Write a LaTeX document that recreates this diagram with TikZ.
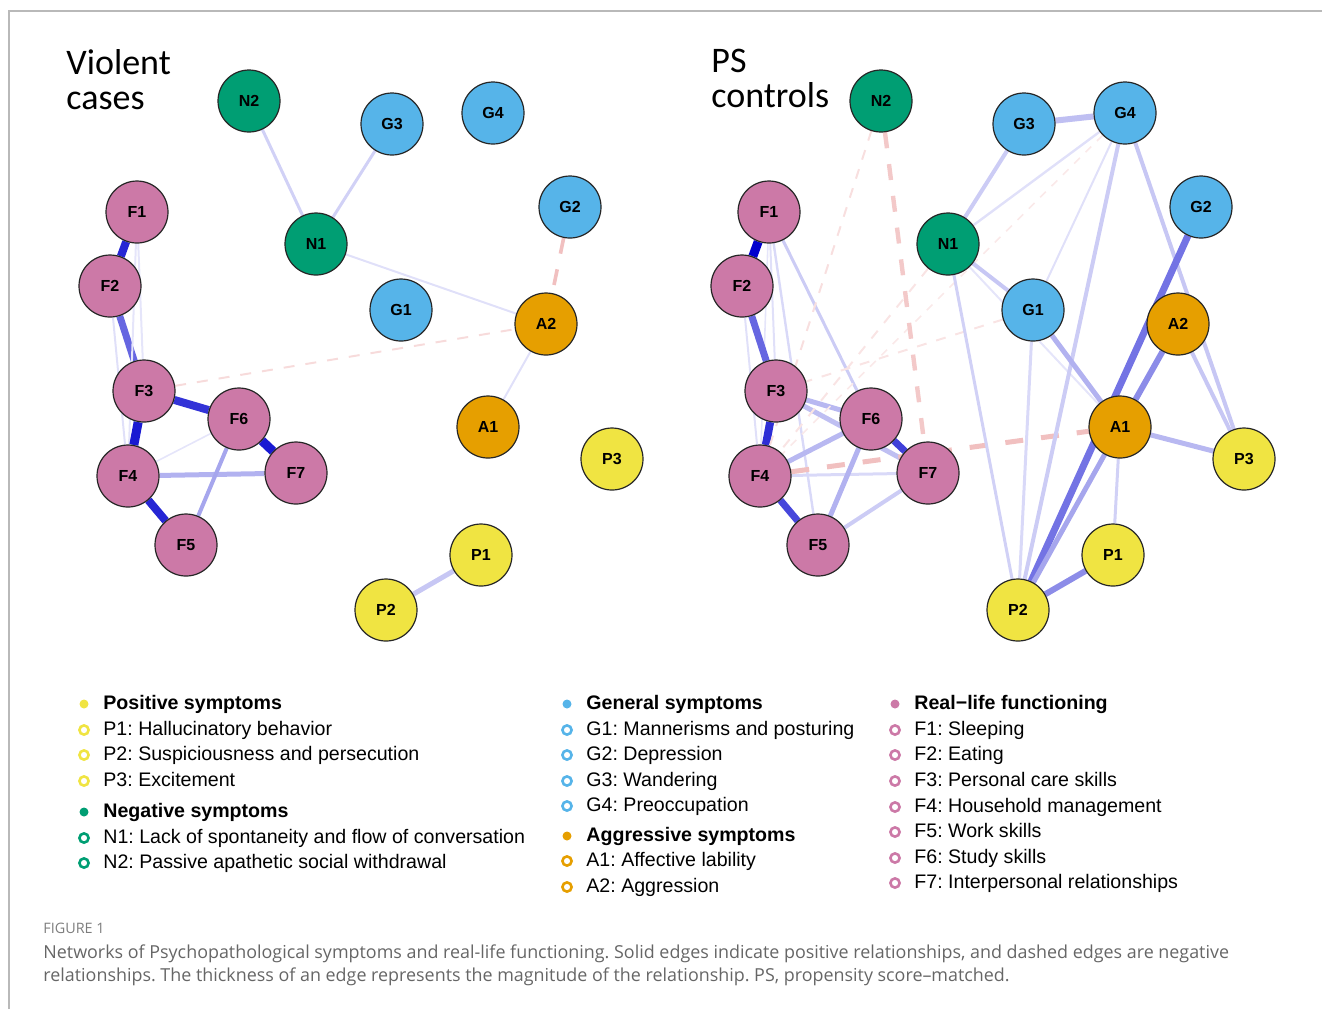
\documentclass[tikz,border=0pt]{standalone}
\usepackage{fontspec}
\setmainfont{Liberation Sans}
\newfontfamily\titlefont{Carlito}
\newfontfamily\capfont{Open Sans}
\usetikzlibrary{positioning}
\pgfdeclarelayer{edges}
\pgfsetlayers{edges,main}
\frenchspacing

\definecolor{posyel}{HTML}{F0E442}
\definecolor{neggrn}{HTML}{009E73}
\definecolor{genblu}{HTML}{56B4E9}
\definecolor{aggorg}{HTML}{E69F00}
\definecolor{funpnk}{HTML}{CC79A7}
\definecolor{edgepos}{RGB}{0,0,205}
\definecolor{edgeneg}{RGB}{215,75,75}
\definecolor{capgray}{HTML}{666666}

\begin{document}
\begin{tikzpicture}[
  x=0.5pt, y=-0.5pt,
  sym/.style={circle, draw=black!85, line width=0.6pt, minimum size=31pt, inner sep=0pt, font=\bfseries\fontsize{8}{8}\selectfont},
  pnode/.style={sym, fill=posyel},
  nnode/.style={sym, fill=neggrn},
  gnode/.style={sym, fill=genblu},
  anode/.style={sym, fill=aggorg},
  fnode/.style={sym, fill=funpnk},
  pos/.style 2 args={draw=edgepos!#1, line width=#2pt},
  neg/.style n args={3}{draw=edgeneg!#1, line width=#2pt, dash pattern=on #3pt off #3pt},
  title/.style={anchor=north west, inner sep=0pt, align=left, font=\titlefont\fontsize{18}{17.5}\selectfont},
  dot/.style={circle, inner sep=0pt, minimum size=4.5pt, fill=#1},
  ring/.style={circle, inner sep=0pt, minimum size=4.6pt, draw=#1, line width=1.3pt},
  head/.style={anchor=mid west, inner sep=0pt, font=\bfseries\fontsize{9.8}{11}\selectfont},
  item/.style={anchor=mid west, inner sep=0pt, font=\fontsize{9.8}{11}\selectfont}
]
\useasboundingbox (0,0) rectangle (1322,1009);
\draw[gray!55, line width=0.8pt] (9,1009) -- (9,11) -- (1322,11);

% titles
\node[title] (vtitle) at (66,49) {Violent\\cases};
\node[title] (ctitle) at (711,49) {PS\\controls};

% violent cases
\node[nnode] (vN2) at (249,101) {N2};
\node[gnode] (vG3) at (392,124) {G3};
\node[gnode] (vG4) at (493,113) {G4};
\node[fnode] (vF1) at (137,212) {F1};
\node[nnode] (vN1) at (316,244) {N1};
\node[gnode] (vG2) at (570,207) {G2};
\node[fnode] (vF2) at (110,286) {F2};
\node[gnode] (vG1) at (401,310) {G1};
\node[anode] (vA2) at (546,324) {A2};
\node[fnode] (vF3) at (144,391) {F3};
\node[fnode] (vF6) at (239,419) {F6};
\node[anode] (vA1) at (488,427) {A1};
\node[pnode] (vP3) at (612,459) {P3};
\node[fnode] (vF4) at (128,476) {F4};
\node[fnode] (vF7) at (296,473) {F7};
\node[fnode] (vF5) at (186,545) {F5};
\node[pnode] (vP1) at (481,555) {P1};
\node[pnode] (vP2) at (386,610) {P2};

% PS controls
\node[nnode] (cN2) at (881,101) {N2};
\node[gnode] (cG3) at (1024,124) {G3};
\node[gnode] (cG4) at (1125,113) {G4};
\node[fnode] (cF1) at (769,212) {F1};
\node[nnode] (cN1) at (948,244) {N1};
\node[gnode] (cG2) at (1201,207) {G2};
\node[fnode] (cF2) at (742,286) {F2};
\node[gnode] (cG1) at (1033,310) {G1};
\node[anode] (cA2) at (1178,324) {A2};
\node[fnode] (cF3) at (776,391) {F3};
\node[fnode] (cF6) at (871,419) {F6};
\node[anode] (cA1) at (1120,427) {A1};
\node[pnode] (cP3) at (1244,459) {P3};
\node[fnode] (cF4) at (760,476) {F4};
\node[fnode] (cF7) at (928,473) {F7};
\node[fnode] (cF5) at (818,545) {F5};
\node[pnode] (cP1) at (1113,555) {P1};
\node[pnode] (cP2) at (1018,610) {P2};

\begin{pgfonlayer}{edges}
% violent cases edges
\draw[pos={18}{1.5}] (vN2) -- (vN1);
\draw[pos={18}{1.5}] (vG3) -- (vN1);
\draw[pos={12}{1}] (vN1) -- (vA2);
\draw[pos={12}{1}] (vA1) -- (vA2);
\draw[neg={35}{1.8}{8}] (vG2) -- (vA2);
\draw[neg={20}{1}{5.5}] (vF3) -- (vA2);
\draw[pos={85}{4}] (vF1) -- (vF2);
\draw[pos={60}{3.5}] (vF2) -- (vF3);
\draw[pos={10}{1}] (vF1) -- (vF3);
\draw[pos={10}{1}] (vF1) -- (vF4);
\draw[pos={12}{1}] (vF2) -- (vF4);
\draw[pos={80}{4}] (vF3) -- (vF6);
\draw[pos={90}{4.5}] (vF3) -- (vF4);
\draw[pos={90}{4.5}] (vF6) -- (vF7);
\draw[pos={85}{4}] (vF4) -- (vF5);
\draw[pos={30}{2.5}] (vF4) -- (vF7);
\draw[pos={35}{2}] (vF6) -- (vF5);
\draw[pos={10}{0.8}] (vF4) -- (vF6);
\draw[pos={22}{2.5}] (vP1) -- (vP2);
% PS controls edges
\draw[pos={12}{1}] (cF1) -- (cF3);
\draw[pos={10}{0.8}] (cF1) -- (cF4);
\draw[pos={15}{1.2}] (cF1) -- (cF5);
\draw[pos={12}{1}] (cF2) -- (cF4);
\draw[pos={20}{1.5}] (cF1) -- (cF6);
\draw[pos={100}{4.5}] (cF1) -- (cF2);
\draw[pos={60}{3.5}] (cF2) -- (cF3);
\draw[pos={82}{4}] (cF3) -- (cF4);
\draw[pos={72}{3.5}] (cF4) -- (cF5);
\draw[pos={75}{3.5}] (cF6) -- (cF7);
\draw[pos={28}{2.5}] (cF3) -- (cF6);
\draw[pos={25}{2.5}] (cF3) -- (cF7);
\draw[pos={28}{2.5}] (cF4) -- (cF6);
\draw[pos={15}{1.5}] (cF4) -- (cF7);
\draw[pos={30}{2.5}] (cF6) -- (cF5);
\draw[pos={20}{2}] (cF7) -- (cF5);
\draw[neg={18}{1}{5}] (cN2) -- (cF4);
\draw[neg={15}{1}{5}] (cN1) -- (cF4);
\draw[neg={12}{0.8}{4}] (cG4) -- (cF4);
\draw[neg={15}{1}{5}] (cG1) -- (cF3);
\draw[neg={30}{2.2}{8}] (cN2) -- (cF7);
\draw[neg={35}{2.5}{9}] (cF4) -- (cA1);
\draw[pos={25}{3}] (cG3) -- (cG4);
\draw[pos={20}{2}] (cG3) -- (cN1);
\draw[pos={12}{1.2}] (cG4) -- (cN1);
\draw[pos={22}{2}] (cN1) -- (cG1);
\draw[pos={10}{1}] (cN1) -- (cA1);
\draw[pos={18}{1.5}] (cN1) -- (cP2);
\draw[pos={12}{1}] (cG4) -- (cG1);
\draw[pos={20}{2}] (cG4) -- (cP2);
\draw[pos={22}{2}] (cG4) -- (cP3);
\draw[pos={30}{2.5}] (cG1) -- (cA1);
\draw[pos={15}{1.5}] (cG1) -- (cP2);
\draw[pos={55}{3.5}] (cG2) -- (cP2);
\draw[pos={45}{3}] (cA2) -- (cA1);
\draw[pos={22}{2}] (cA2) -- (cP3);
\draw[pos={28}{2.5}] (cA1) -- (cP3);
\draw[pos={18}{1.5}] (cA1) -- (cP1);
\draw[pos={35}{2.5}] (cA1) -- (cP2);
\draw[pos={45}{3}] (cP1) -- (cP2);
\end{pgfonlayer}

% legend
\node[dot=posyel] (kPd) at (84,704) {};
\node[head] (kP) at (103,704) {Positive symptoms};
\node[ring=posyel] (kP1d) at (84,730) {};
\node[item] (kP1) at (103,730) {P1: Hallucinatory behavior};
\node[ring=posyel] (kP2d) at (84,755) {};
\node[item] (kP2) at (103,755) {P2: Suspiciousness and persecution};
\node[ring=posyel] (kP3d) at (84,781) {};
\node[item] (kP3) at (103,781) {P3: Excitement};
\node[dot=neggrn] (kNd) at (84,812) {};
\node[head] (kN) at (103,812) {Negative symptoms};
\node[ring=neggrn] (kN1d) at (84,838) {};
\node[item] (kN1) at (103,838) {N1: Lack of spontaneity and flow of conversation};
\node[ring=neggrn] (kN2d) at (84,863) {};
\node[item] (kN2) at (103,863) {N2: Passive apathetic social withdrawal};

\node[dot=genblu] (kGd) at (567,704) {};
\node[head] (kG) at (586,704) {General symptoms};
\node[ring=genblu] (kG1d) at (567,730) {};
\node[item] (kG1) at (586,730) {G1: Mannerisms and posturing};
\node[ring=genblu] (kG2d) at (567,755) {};
\node[item] (kG2) at (586,755) {G2: Depression};
\node[ring=genblu] (kG3d) at (567,781) {};
\node[item] (kG3) at (586,781) {G3: Wandering};
\node[ring=genblu] (kG4d) at (567,806) {};
\node[item] (kG4) at (586,806) {G4: Preoccupation};
\node[dot=aggorg] (kAd) at (567,836) {};
\node[head] (kA) at (586,836) {Aggressive symptoms};
\node[ring=aggorg] (kA1d) at (567,861) {};
\node[item] (kA1) at (586,861) {A1: Affective lability};
\node[ring=aggorg] (kA2d) at (567,887) {};
\node[item] (kA2) at (586,887) {A2: Aggression};

\node[dot=funpnk] (kFd) at (895,704) {};
\node[head] (kF) at (914,704) {Real−life functioning};
\node[ring=funpnk] (kF1d) at (895,730) {};
\node[item] (kF1) at (914,730) {F1: Sleeping};
\node[ring=funpnk] (kF2d) at (895,755) {};
\node[item] (kF2) at (914,755) {F2: Eating};
\node[ring=funpnk] (kF3d) at (895,781) {};
\node[item] (kF3) at (914,781) {F3: Personal care skills};
\node[ring=funpnk] (kF4d) at (895,807) {};
\node[item] (kF4) at (914,807) {F4: Household management};
\node[ring=funpnk] (kF5d) at (895,832) {};
\node[item] (kF5) at (914,832) {F5: Work skills};
\node[ring=funpnk] (kF6d) at (895,858) {};
\node[item] (kF6) at (914,858) {F6: Study skills};
\node[ring=funpnk] (kF7d) at (895,883) {};
\node[item] (kF7) at (914,883) {F7: Interpersonal relationships};

% caption
\node[anchor=base west, inner sep=0pt, text=capgray!85, font=\capfont\fontsize{7.2}{8}\selectfont] (figno) at (43,933) {FIGURE 1};
\node[anchor=base west, inner sep=0pt, text=capgray, font=\capfont\fontsize{8.95}{10}\selectfont] (capA) at (43,958) {Networks of Psychopathological symptoms and real-life functioning. Solid edges indicate positive relationships, and dashed edges are negative};
\node[anchor=base west, inner sep=0pt, text=capgray, font=\capfont\fontsize{8.95}{10}\selectfont] (capB) at (43,981) {relationships. The thickness of an edge represents the magnitude of the relationship. PS, propensity score–matched.};
\end{tikzpicture}
\end{document}
